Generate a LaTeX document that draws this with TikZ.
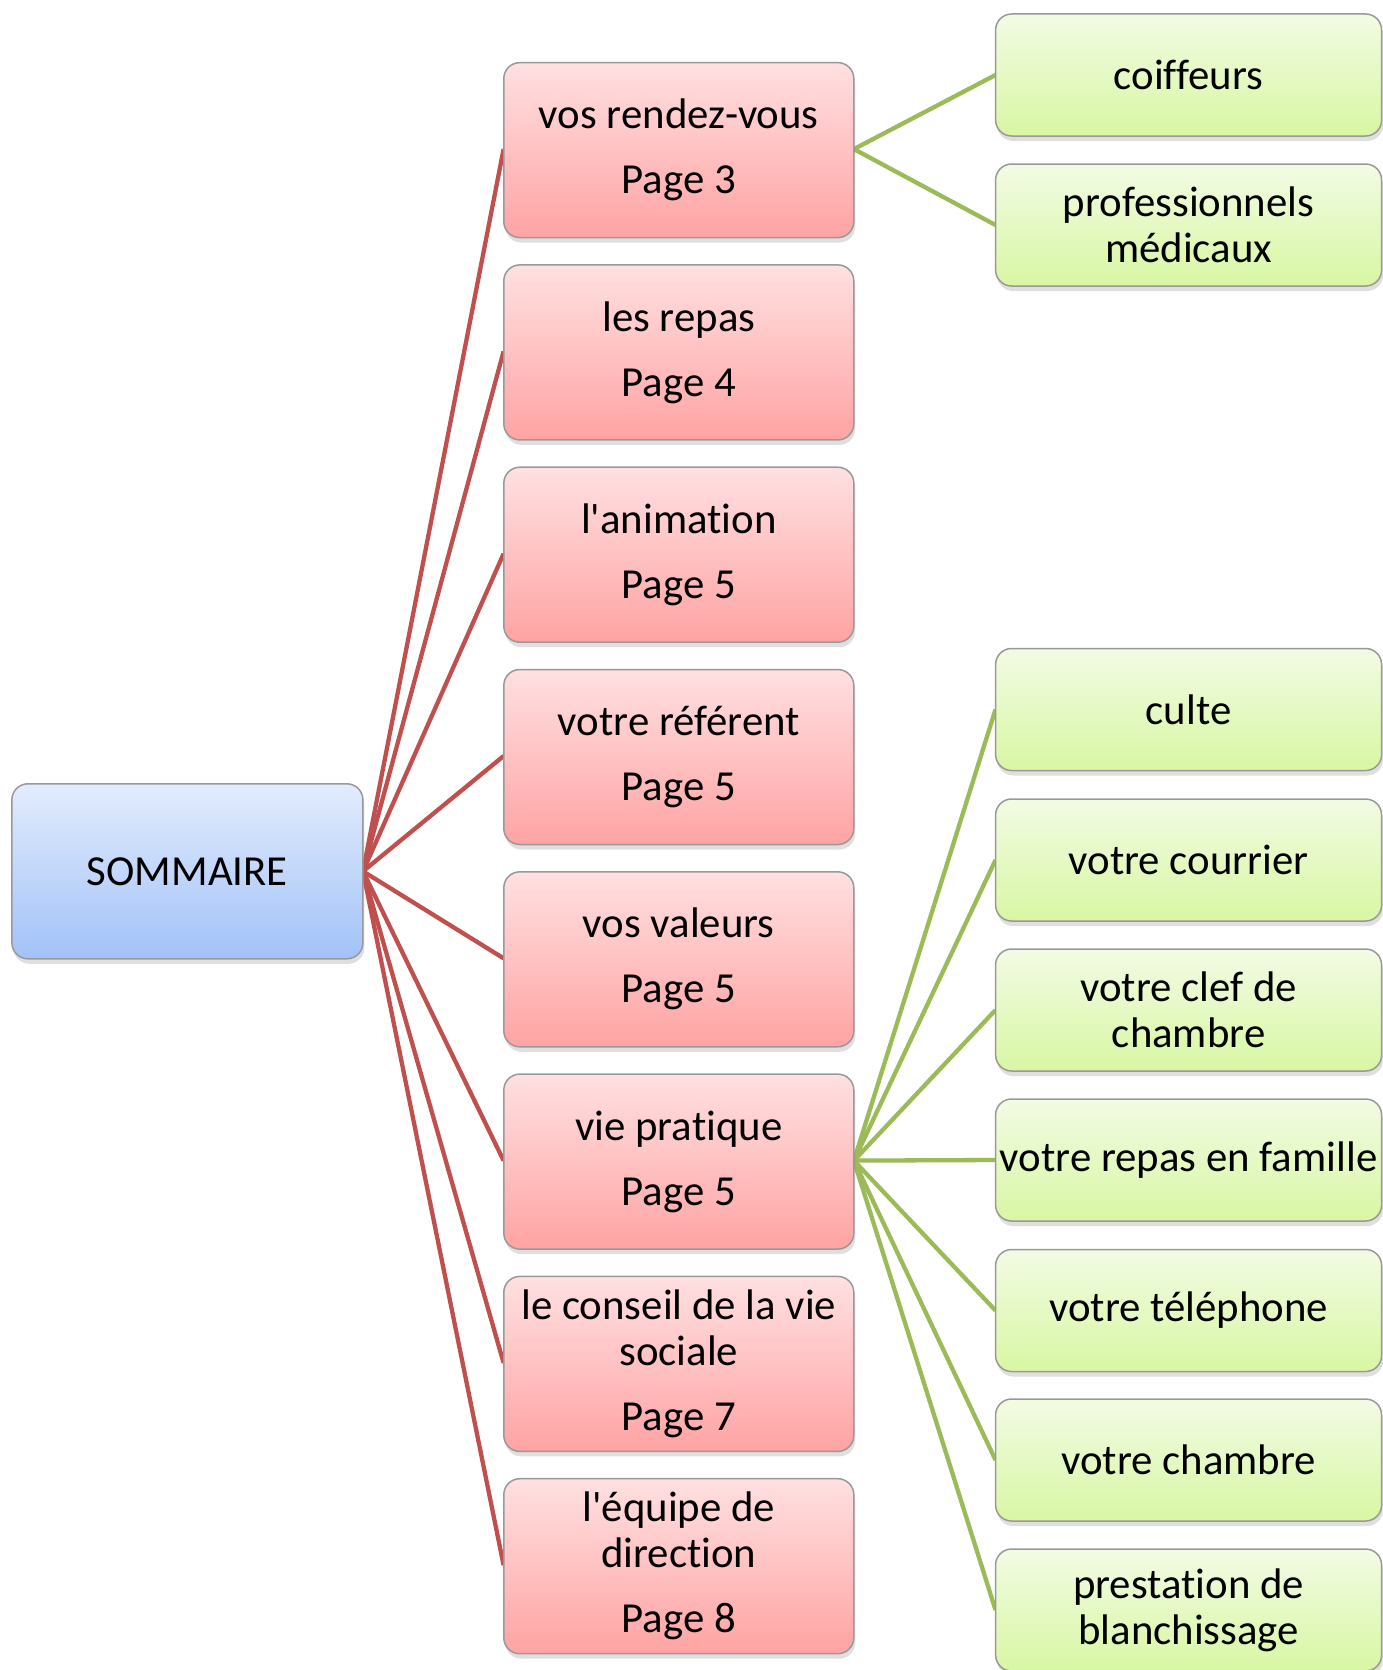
\documentclass[tikz,border=0pt]{standalone}
\usepackage{fontspec}
\setmainfont{Carlito}[Ligatures={NoCommon}]
\usetikzlibrary{shadows}
\definecolor{redline}{HTML}{C0504D}
\definecolor{greenline}{HTML}{9BBB59}
\definecolor{pinktop}{HTML}{FFE0E1}
\definecolor{pinkbot}{HTML}{FFA3A3}
\definecolor{bluetop}{HTML}{E2ECFD}
\definecolor{bluebot}{HTML}{A2C2F8}
\definecolor{greentop}{HTML}{F2FBE4}
\definecolor{greenbot}{HTML}{D8F7A3}
\newcommand{\apos}{\textquotesingle}
\tikzset{
  boxbase/.style={draw=black!40, line width=1.5pt, rounded corners=16pt,
    align=center, inner sep=2pt,
    font=\fontsize{42.8}{46}\selectfont,
    drop shadow={shadow xshift=1.5pt, shadow yshift=-5pt, opacity=0.25}},
  rootbox/.style={boxbase, minimum width=351pt, minimum height=175pt,
    top color=bluetop, bottom color=bluebot},
  pinkbox/.style={boxbase, minimum width=350pt, minimum height=175pt,
    top color=pinktop, bottom color=pinkbot},
  greenbox/.style={boxbase, minimum width=386pt, minimum height=122pt,
    top color=greentop, bottom color=greenbot},
  redlink/.style={draw=redline, line width=4.3pt},
  greenlink/.style={draw=greenline, line width=4.3pt}
}
\begin{document}
\begin{tikzpicture}[x=1pt,y=-1pt]
\useasboundingbox (0,0) rectangle (1383,1670);
\begin{scope}
\clip (0,0) rectangle (1383,1670);
% links first
\coordinate (somE) at (363,871.3);
\foreach \i in {1,...,8} {
  \coordinate (pkW\i) at (503.6,{149.1+202.3*(\i-1)});
  \draw[redlink] (somE) -- (pkW\i);
}
\coordinate (pkE1) at (853.9,149.1);
\coordinate (pkE6) at (853.9,1160.6);
\coordinate (gW1) at (995.5,75);
\coordinate (gW2) at (995.5,225);
\draw[greenlink] (pkE1) -- (gW1);
\draw[greenlink] (pkE1) -- (gW2);
\foreach \j/\yy in {3/709.5,4/860,5/1010,6/1160,7/1310.5,8/1460,9/1610} {
  \coordinate (gW\j) at (995.5,\yy);
  \draw[greenlink] (pkE6) -- (gW\j);
}
% nodes
\node[rootbox] (som) at (187.4,871.3) {SOMMAIRE};
\node[pinkbox] (p1) at (678.8,150.1) {vos rendez-vous\\[19pt]Page 3};
\node[pinkbox] (p2) at (678.8,352.4) {les repas\\[19pt]Page 4};
\node[pinkbox] (p3) at (678.8,554.7) {l\apos animation\\[19pt]Page 5};
\node[pinkbox] (p4) at (678.8,757.0) {votre référent\\[19pt]Page 5};
\node[pinkbox] (p5) at (678.8,959.3) {vos valeurs\\[19pt]Page 5};
\node[pinkbox] (p6) at (678.8,1161.6) {vie pratique\\[19pt]Page 5};
\node[pinkbox] (p7) at (678.8,1363.9) {le conseil de la vie\\sociale\\[19pt]Page 7};
\node[pinkbox] (p8) at (678.8,1566.2) {l\apos équipe de\\direction\\[19pt]Page 8};
\node[greenbox] (g1) at (1188.6,75) {coiffeurs};
\node[greenbox] (g2) at (1188.6,225) {professionnels\\médicaux};
\node[greenbox] (g3) at (1188.6,709.5) {culte};
\node[greenbox] (g4) at (1188.6,860) {votre courrier};
\node[greenbox] (g5) at (1188.6,1010) {votre clef de\\chambre};
\node[greenbox] (g6) at (1188.6,1160) {votre repas en famille};
\node[greenbox] (g7) at (1188.6,1310.5) {votre téléphone};
\node[greenbox] (g8) at (1188.6,1460) {votre chambre};
\node[greenbox] (g9) at (1188.6,1610) {prestation de\\blanchissage};
\end{scope}
\end{tikzpicture}
\end{document}
